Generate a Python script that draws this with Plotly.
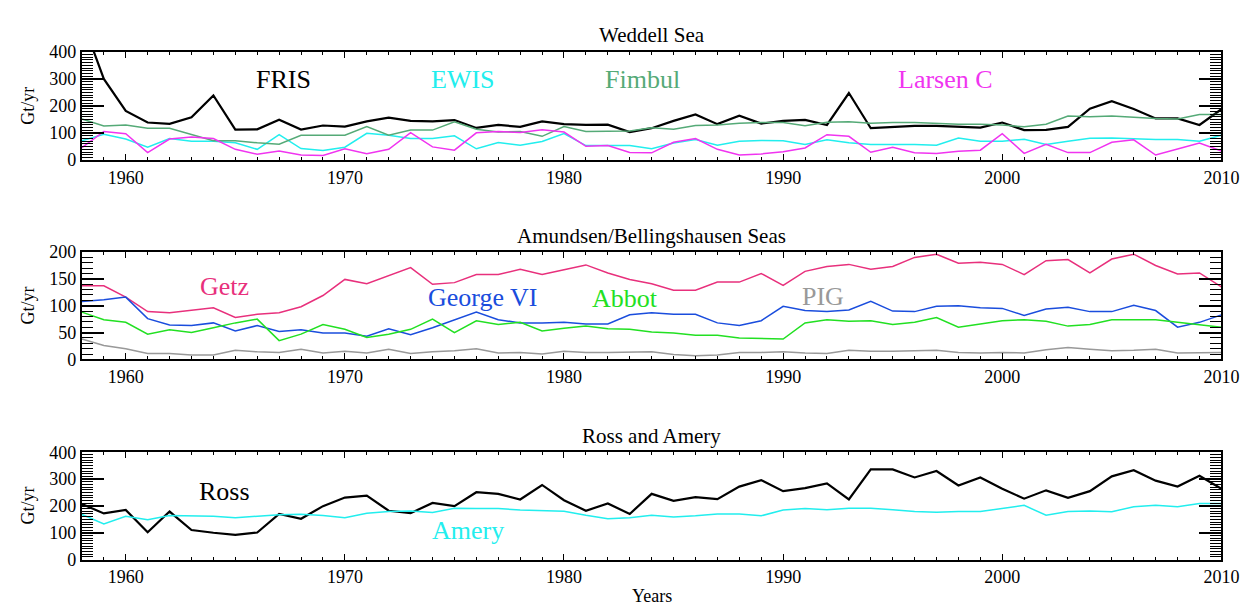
import plotly.graph_objects as go

years = list(range(1958, 2011))

# Weddell Sea
fris = [520, 300, 182, 139, 134, 158, 239, 113, 114, 149,
        113, 128, 124, 143, 157, 145, 143, 148, 119, 130,
        123, 143, 133, 130, 131, 104, 118, 145, 169, 133,
        164, 135, 145, 149, 130, 248, 118, 123, 127, 127,
        123, 120, 139, 111, 112, 123, 190, 218, 189, 154,
        154, 130, 188]
ewis = [72, 96, 78, 48, 80, 70, 70, 64, 40, 94,
        43, 36, 48, 99, 92, 80, 80, 90, 42, 65,
        55, 69, 98, 54, 54, 54, 42, 63, 76, 55,
        70, 73, 72, 58, 75, 64, 58, 58, 58, 55,
        82, 70, 70, 77, 58, 70, 81, 82, 78, 76,
        76, 70, 92]
fimbul = [152, 126, 130, 118, 118, 96, 72, 72, 64, 59,
          92, 92, 92, 124, 92, 111, 111, 142, 114, 104,
          106, 88, 124, 106, 106, 108, 120, 114, 128, 130,
          136, 139, 139, 127, 140, 142, 136, 139, 139, 136,
          133, 133, 130, 123, 133, 163, 160, 163, 158, 154,
          152, 169, 169]
larsen_c = [46, 106, 98, 28, 78, 86, 80, 40, 22, 34,
            19, 17, 42, 24, 40, 102, 49, 37, 101, 106,
            102, 112, 104, 51, 54, 28, 27, 66, 80, 40,
            19, 23, 31, 45, 94, 88, 29, 48, 27, 25,
            33, 37, 98, 25, 59, 28, 28, 66, 75, 19,
            41, 63, 34]

# Amundsen / Bellingshausen Seas
getz = [137, 137, 116, 89, 87, 92, 96, 78, 84, 87,
        98, 119, 149, 141, 156, 171, 140, 143, 158, 158,
        168, 158, 167, 176, 161, 149, 141, 129, 129, 144,
        144, 160, 138, 164, 173, 177, 168, 173, 190, 196,
        179, 181, 177, 158, 184, 186, 161, 187, 196, 175,
        159, 161, 135]
george_vi = [108, 111, 116, 76, 64, 63, 68, 53, 63, 52,
             55, 49, 49, 43, 57, 46, 59, 74, 88, 74,
             68, 68, 69, 66, 66, 83, 87, 84, 84, 68,
             63, 72, 99, 91, 89, 92, 108, 90, 89, 99,
             100, 96, 95, 82, 94, 97, 89, 89, 101, 91,
             60, 69, 83]
abbot = [88, 74, 69, 47, 55, 50, 59, 68, 75, 35,
         47, 65, 56, 41, 47, 56, 75, 50, 72, 65,
         69, 53, 58, 62, 57, 56, 51, 49, 45, 45,
         40, 39, 38, 68, 74, 71, 72, 65, 69, 78,
         60, 66, 72, 74, 71, 62, 65, 74, 74, 74,
         69, 64, 60]
pig = [38, 26, 20, 11, 11, 8, 8, 17, 14, 13,
       19, 12, 15, 12, 19, 11, 14, 16, 20, 12,
       13, 10, 15, 13, 13, 14, 14, 9, 7, 8,
       13, 13, 14, 12, 11, 17, 15, 15, 16, 17,
       13, 12, 13, 12, 18, 22, 19, 16, 17, 19,
       12, 13, 13]

# Ross and Amery
ross = [207, 172, 185, 102, 179, 110, 100, 92, 101, 170,
        152, 199, 231, 238, 182, 173, 211, 199, 251, 245,
        224, 278, 221, 182, 209, 170, 245, 219, 233, 225,
        272, 296, 255, 266, 284, 224, 336, 336, 306, 330,
        276, 306, 264, 227, 258, 230, 255, 310, 333, 294,
        272, 312, 264]
amery = [168, 133, 161, 148, 164, 163, 161, 156, 161, 167,
         169, 164, 156, 173, 179, 181, 175, 191, 190, 190,
         185, 182, 180, 165, 152, 156, 165, 159, 163, 170,
         170, 163, 185, 190, 186, 191, 191, 186, 179, 176,
         179, 179, 191, 202, 165, 179, 181, 178, 197, 202,
         197, 209, 209]

x_tick_vals = [1960, 1970, 1980, 1990, 2000, 2010]
panel_titles = ["Weddell Sea", "Amundsen/Bellingshausen Seas", "Ross and Amery"]
y_unit = "Gt/yr"
x_title = "Years"

FONT = "Liberation Serif"
CYAN = "#22eeee"
MAG = "#f034f0"
SEA = "#55aa77"
GETZ = "#e8307c"
BLUE = "#1a4ddd"
GREEN = "#22e022"
GRAY = "#999999"

series = [
    # name, values, color, width, axis index, label x, label y
    ("FRIS", fris, "black", 2.2, 1, 1967.2, 299),
    ("EWIS", ewis, CYAN, 1.5, 1, 1975.4, 299),
    ("Fimbul", fimbul, SEA, 1.5, 1, 1983.6, 299),
    ("Larsen C", larsen_c, MAG, 1.5, 1, 1997.4, 299),
    ("Getz", getz, GETZ, 1.5, 2, 1964.5, 136),
    ("George VI", george_vi, BLUE, 1.5, 2, 1976.3, 115),
    ("Abbot", abbot, GREEN, 1.5, 2, 1982.8, 113),
    ("PIG", pig, GRAY, 1.5, 2, 1991.8, 117),
    ("Ross", ross, "black", 2.2, 3, 1964.5, 254),
    ("Amery", amery, CYAN, 1.5, 3, 1975.6, 110),
]

W, H = 1257, 608
x_dom = [75 / W, 1231 / W]
panels_px = [(35, 147), (242, 353), (449, 560)]
y_ranges = [[0, 400], [0, 200], [0, 400]]
y_dticks = [100, 50, 100]

fig = go.Figure()
annotations = []
for name, vals, col, lw, ax, lx, ly in series:
    sfx = "" if ax == 1 else str(ax)
    fig.add_trace(go.Scatter(x=years, y=vals, mode="lines", name=name,
                             line=dict(color=col, width=lw),
                             xaxis="x" + sfx, yaxis="y" + sfx, showlegend=False))
    annotations.append(dict(x=lx, y=ly, xref="x" + sfx, yref="y" + sfx, text=name,
                            showarrow=False, font=dict(family=FONT, size=26, color=col)))

fig.update_layout(width=W, height=H, margin=dict(l=0, r=0, t=0, b=0),
                  paper_bgcolor="white", plot_bgcolor="white", showlegend=False)

for i, ((top, bot), yr, dt, title) in enumerate(zip(panels_px, y_ranges, y_dticks, panel_titles)):
    sfx = "" if i == 0 else str(i + 1)
    ydom = [1 - bot / H, 1 - top / H]
    fig.update_layout(**{
        "xaxis" + sfx: dict(
            domain=x_dom, range=[1958, 2010], anchor="y" + sfx,
            tickmode="array", tickvals=x_tick_vals, ticktext=[str(v) for v in x_tick_vals],
            ticks="inside", ticklen=6, tickwidth=1, tickcolor="black",
            minor=dict(tickmode="linear", tick0=1958, dtick=1, ticks="inside", ticklen=3,
                       tickwidth=1, tickcolor="black"),
            showline=True, linewidth=2, linecolor="black", mirror="ticks",
            showgrid=False, zeroline=False,
            tickfont=dict(family=FONT, size=18, color="black")),
        "yaxis" + sfx: dict(
            domain=ydom, range=yr, anchor="x" + sfx, tickmode="linear", tick0=0, dtick=dt,
            ticks="inside", ticklen=22, tickwidth=1.5, tickcolor="black",
            minor=dict(tickmode="linear", tick0=0, dtick=10, ticks="inside", ticklen=11,
                       tickwidth=1.2, tickcolor="black"),
            showline=True, linewidth=2, linecolor="black", mirror="ticks",
            showgrid=False, zeroline=False,
            tickfont=dict(family=FONT, size=18, color="black")),
    })
    annotations.append(dict(x=(x_dom[0] + x_dom[1]) / 2, y=1 - (top - 17) / H,
                            xref="paper", yref="paper", text=title, showarrow=False,
                            font=dict(family=FONT, size=21, color="black"),
                            xanchor="center", yanchor="middle"))
    annotations.append(dict(x=20 / W, y=1 - ((top + bot) / 2) / H,
                            xref="paper", yref="paper", text=y_unit, showarrow=False,
                            textangle=-90, font=dict(family=FONT, size=18, color="black"),
                            xanchor="center", yanchor="middle"))

annotations.append(dict(x=(x_dom[0] + x_dom[1]) / 2, y=1 - 598 / H, xref="paper", yref="paper",
                        text=x_title, showarrow=False,
                        font=dict(family=FONT, size=18, color="black"),
                        xanchor="center", yanchor="middle"))
fig.update_layout(annotations=annotations)
fig.write_html("out.html")
